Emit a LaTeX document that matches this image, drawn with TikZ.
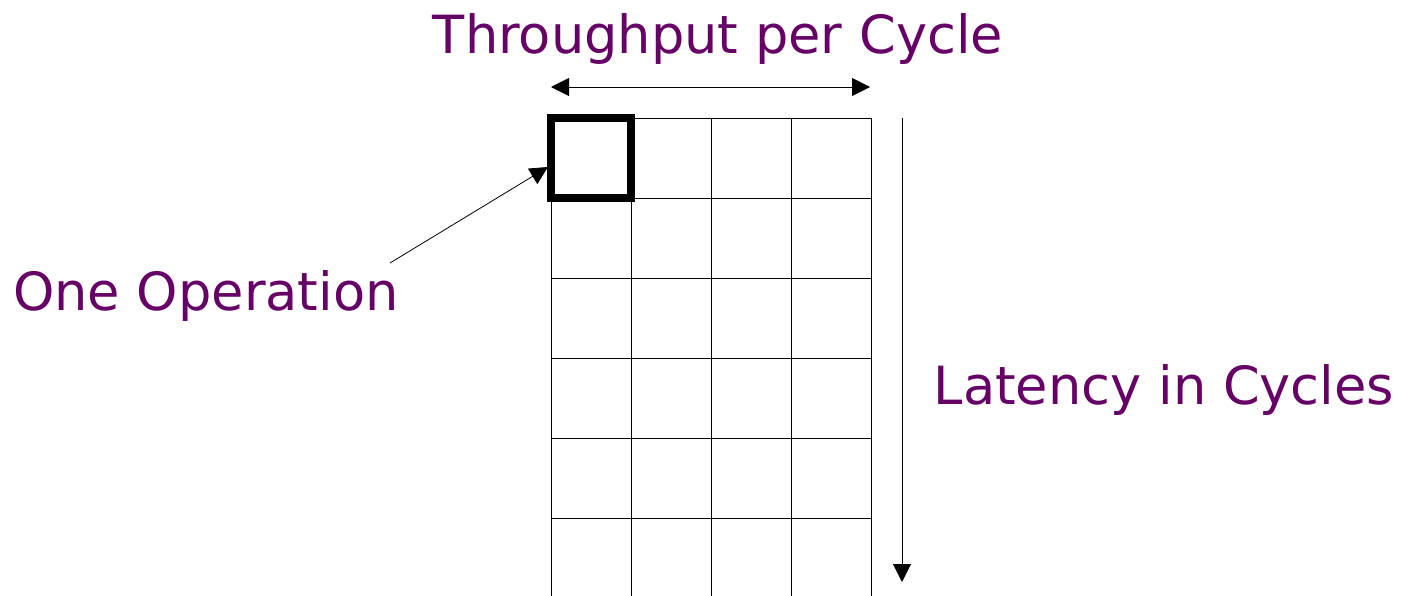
\documentclass[tikz,border=0pt]{standalone}
\usepackage{fontspec}
\setmainfont{DejaVu Sans}
\usetikzlibrary{arrows.meta}
\definecolor{plum}{RGB}{102,0,102}
\tikzstyle{cell}=[draw=black,line width=0.5pt,minimum size=40pt,inner sep=0pt]
\tikzstyle{opbox}=[draw=black,line width=3.8pt,minimum size=40pt,inner sep=0pt]
\tikzstyle{caption}=[text=plum,font=\fontsize{26.3}{30}\selectfont,inner sep=0pt]
\tikzstyle{pointer}=[-{Triangle[length=9pt,width=9pt]},line width=0.4pt]
\tikzstyle{span}=[{Triangle[length=9pt,width=9pt]}-{Triangle[length=9pt,width=9pt]},line width=0.4pt]

\begin{document}
\begin{tikzpicture}[x=0.5pt,y=-0.5pt]
		\useasboundingbox (0,0) rectangle (1403,595);
		\clip (0,0) rectangle (1403,595);
		\fill [white] (0,0) rectangle (1403,595);

		% grid of cycles
		\foreach \i in {0,...,3}
			\foreach \j in {0,...,5}
				\node (c-\i-\j) at (591+80*\i,158+80*\j) [cell] {};
		\node (op) at (591,158) [opbox] {};

		\node (thr) at (718,53) [caption,anchor=base] {Throughput per Cycle};
		\node (one) at (206,310) [caption,anchor=base] {One Operation};
		\node (lat) at (1164,404) [caption,anchor=base] {Latency in Cycles};

		\coordinate (thr-l) at (551,87);
		\coordinate (thr-r) at (870,87);
		\coordinate (lat-t) at (902,118);
		\coordinate (lat-b) at (902,582);
		\coordinate (one-s) at (390,263);
		\coordinate (one-e) at (548,167);

		\draw [span] (thr-l)-- (thr-r);
		\draw [pointer] (lat-t)-- (lat-b);
		\draw [pointer] (one-s)-- (one-e);
	\end{tikzpicture}
\end{document}
